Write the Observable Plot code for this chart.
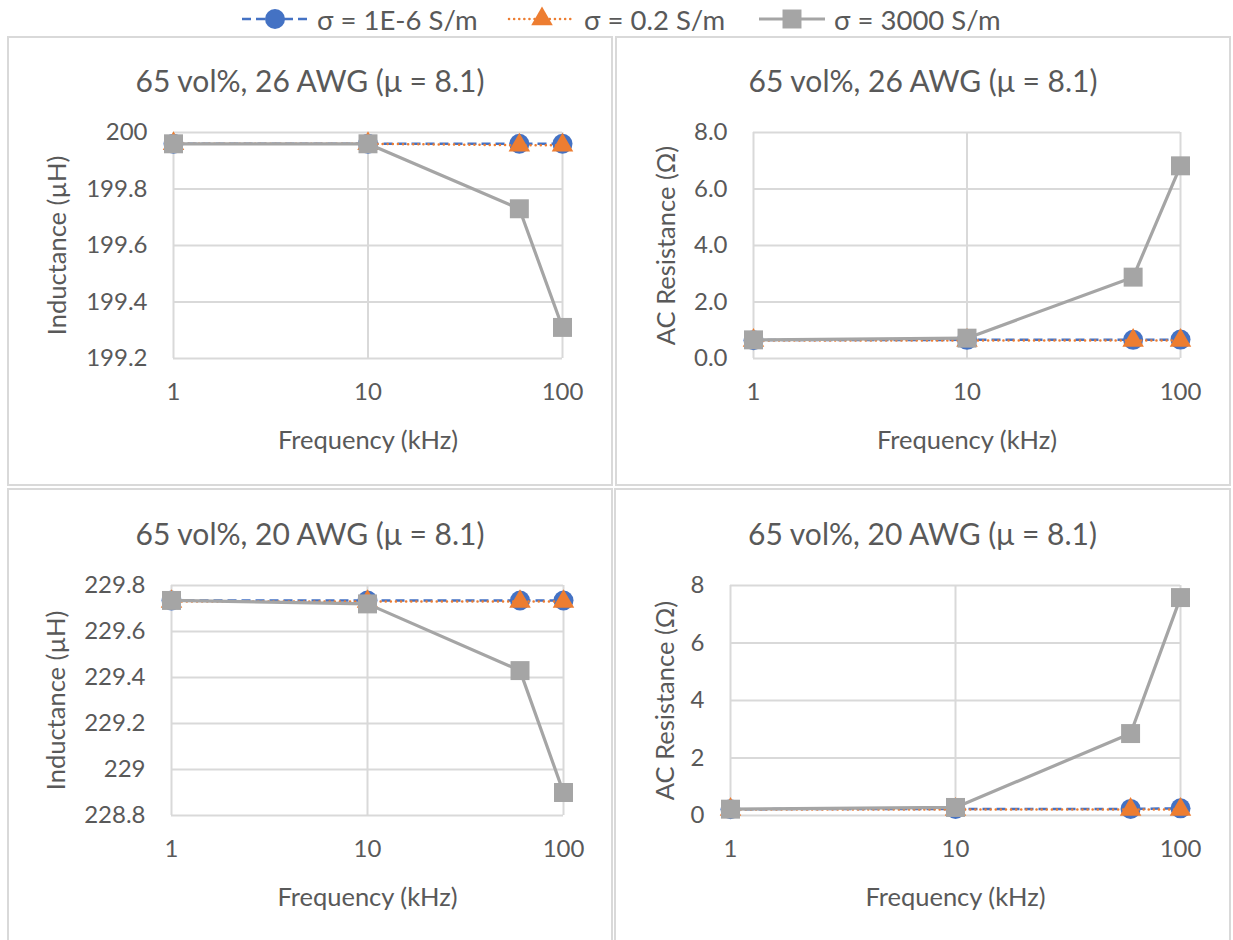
<!DOCTYPE html>
<html>
<head>
<meta charset="utf-8">
<script src="https://cdn.jsdelivr.net/npm/d3@7"></script>
<script src="https://cdn.jsdelivr.net/npm/@observablehq/plot@0.6"></script>
<style>
  body { margin: 0; width: 1233px; height: 940px; background: #fff; overflow: hidden; font-family: Lato, "Noto Sans", sans-serif; color: #595959; position: relative; }
  .panel { position: absolute; border: 2px solid #d9d9d9; box-sizing: border-box; background: #fff; }
  .title { position: absolute; left: 0; right: 0; text-align: center; font-size: 30px; line-height: 36px; color: #595959; white-space: nowrap; }
  .plot { position: absolute; left: 0; top: 0; }
  .plot g[aria-label="x-axis label"], .plot g[aria-label="y-axis label"] { font-size: 25.5px; }
  #legend { position: absolute; top: 2px; left: 0; width: 1233px; height: 34px; }
  .li { position: absolute; top: 0; display: flex; align-items: center; height: 34px; font-size: 27.5px; white-space: nowrap; }
  .li svg { display: block; }
</style>
</head>
<body>
<div id="legend"></div>
<div id="root"></div>
<script>
// ---------- data ----------
const freqs = [1, 10, 60, 100];           // kHz
const seriesNames = ["σ = 1E-6 S/m", "σ = 0.2 S/m", "σ = 3000 S/m"];
const seriesColors = ["#4472C4", "#ED7D31", "#A5A5A5"];

// Panel 1: 65 vol%, 26 AWG inductance (µH)
const ind26_s1 = [199.96, 199.96, 199.96, 199.96];
const ind26_s2 = [199.96, 199.96, 199.955, 199.955];
const ind26_s3 = [199.96, 199.96, 199.73, 199.31];
// Panel 2: 65 vol%, 26 AWG AC resistance (Ω)
const res26_s1 = [0.65, 0.66, 0.66, 0.67];
const res26_s2 = [0.64, 0.64, 0.64, 0.64];
const res26_s3 = [0.66, 0.72, 2.88, 6.82];
// Panel 3: 65 vol%, 20 AWG inductance (µH)
const ind20_s1 = [229.735, 229.735, 229.735, 229.735];
const ind20_s2 = [229.73, 229.73, 229.73, 229.73];
const ind20_s3 = [229.735, 229.72, 229.43, 228.90];
// Panel 4: 65 vol%, 20 AWG AC resistance (Ω)
const res20_s1 = [0.22, 0.23, 0.23, 0.25];
const res20_s2 = [0.21, 0.21, 0.21, 0.21];
const res20_s3 = [0.22, 0.28, 2.85, 7.58];

const xTicks = [1, 10, 100];
const ind26Ticks = [199.2, 199.4, 199.6, 199.8, 200];
const res26Ticks = [0, 2, 4, 6, 8];
const ind20Ticks = [228.8, 229, 229.2, 229.4, 229.6, 229.8];
const res20Ticks = [0, 2, 4, 6, 8];

const titleTop = "65 vol%, 26 AWG (μ = 8.1)";
const titleBottom = "65 vol%, 20 AWG (μ = 8.1)";
const xLabel = "Frequency (kHz)";
const yLabelInd = "Inductance (µH)";
const yLabelRes = "AC Resistance (Ω)";

// ---------- helpers ----------
const general = d => String(+d.toFixed(4));
const fixed1 = d => d.toFixed(1);

function rows(vals) { return freqs.map((f, i) => ({f, v: vals[i]})); }

const styles = [
  {dash: "9,5", cap: "butt", width: 2.5, symbol: "circle", r: 10},
  {dash: "0.1,5", cap: "round", width: 2.5, symbol: "triangle", r: 8},
  {dash: null, cap: "butt", width: 3.2, symbol: "square", r: 10.7}
];

function makePanel(cfg) {
  const panel = document.createElement("div");
  panel.className = "panel";
  Object.assign(panel.style, {left: cfg.left + "px", top: cfg.top + "px", width: cfg.w + "px", height: cfg.h + "px"});
  const t = document.createElement("div");
  t.className = "title";
  t.style.top = cfg.titleY + "px";
  t.textContent = cfg.title;
  panel.appendChild(t);

  const marks = [
    Plot.gridY(cfg.yTicks, {stroke: "#d9d9d9", strokeOpacity: 1, strokeWidth: 2}),
    Plot.gridX(xTicks, {stroke: "#d9d9d9", strokeOpacity: 1, strokeWidth: 2})
  ];
  cfg.series.forEach((vals, i) => {
    const s = styles[i];
    marks.push(Plot.line(rows(vals), {x: "f", y: "v", stroke: seriesColors[i], strokeWidth: s.width,
      strokeDasharray: s.dash, strokeLinecap: s.cap}));
    marks.push(Plot.dot(rows(vals), {x: "f", y: "v", symbol: s.symbol, r: s.r, fill: seriesColors[i], stroke: "none"}));
  });

  const svg = Plot.plot({
    width: cfg.w - 4,
    height: cfg.h - 4,
    marginLeft: cfg.ml, marginRight: cfg.mr, marginTop: cfg.mt, marginBottom: cfg.mb,
    style: {fontFamily: "Lato, 'Noto Sans', sans-serif", fontSize: "24px", color: "#595959", background: "transparent", overflow: "visible"},
    x: {type: "log", domain: [1, 100], ticks: xTicks, tickFormat: d => String(d), tickSize: 0, tickPadding: 24,
        label: xLabel, labelAnchor: "center", labelOffset: 90, labelArrow: "none"},
    y: {domain: cfg.yDomain, ticks: cfg.yTicks, tickFormat: cfg.yFormat, tickSize: 0, tickPadding: 26,
        label: cfg.yLabel, labelAnchor: "center", labelOffset: cfg.yLabelOffset, labelArrow: "none"},
    marks
  });
  svg.classList.add("plot");
  panel.appendChild(svg);
  document.getElementById("root").appendChild(panel);
}

// page-coordinate plot frames
function cfgFor(box, frame, extra) {
  const inner = {left: box.left + 2, top: box.top + 2};
  return Object.assign({
    left: box.left, top: box.top, w: box.w, h: box.h,
    ml: frame.x0 - inner.left, mr: (box.left + box.w - 2) - frame.x1,
    mt: frame.y0 - inner.top, mb: (box.top + box.h - 2) - frame.y1
  }, extra);
}

makePanel(cfgFor({left: 7, top: 36, w: 606, h: 450}, {x0: 173, x1: 562, y0: 132, y1: 358},
  {title: titleTop, titleY: 24, yDomain: [199.2, 200], yTicks: ind26Ticks, yFormat: general, yLabel: yLabelInd,
   yLabelOffset: 126, series: [ind26_s1, ind26_s2, ind26_s3]}));
makePanel(cfgFor({left: 615, top: 36, w: 616, h: 450}, {x0: 753, x1: 1180, y0: 132, y1: 358},
  {title: titleTop, titleY: 24, yDomain: [0, 8], yTicks: res26Ticks, yFormat: fixed1, yLabel: yLabelRes,
   yLabelOffset: 97, series: [res26_s1, res26_s2, res26_s3]}));
makePanel(cfgFor({left: 7, top: 488, w: 606, h: 460}, {x0: 171, x1: 563, y0: 585, y1: 815},
  {title: titleBottom, titleY: 25, yDomain: [228.8, 229.8], yTicks: ind20Ticks, yFormat: general, yLabel: yLabelInd,
   yLabelOffset: 125, series: [ind20_s1, ind20_s2, ind20_s3]}));
makePanel(cfgFor({left: 614, top: 488, w: 617, h: 460}, {x0: 730, x1: 1180, y0: 585, y1: 815},
  {title: titleBottom, titleY: 25, yDomain: [0, 8], yTicks: res20Ticks, yFormat: general, yLabel: yLabelRes,
   yLabelOffset: 75, series: [res20_s1, res20_s2, res20_s3]}));

// ---------- legend ----------
const legendX = [240, 507, 757];
const legend = document.getElementById("legend");
seriesNames.forEach((name, i) => {
  const s = styles[i];
  const item = document.createElement("div");
  item.className = "li";
  item.style.left = legendX[i] + "px";
  const sw = d3.create("svg").attr("width", 70).attr("height", 34).style("margin-right", "7px");
  sw.append("line").attr("x1", 2).attr("x2", 68).attr("y1", 17).attr("y2", 17)
    .attr("stroke", seriesColors[i]).attr("stroke-width", s.width)
    .attr("stroke-dasharray", s.dash).attr("stroke-linecap", s.cap);
  const sym = {circle: d3.symbolCircle, triangle: d3.symbolTriangle, square: d3.symbolSquare}[s.symbol];
  sw.append("path").attr("transform", "translate(35,17)")
    .attr("d", d3.symbol(sym, Math.PI * s.r * s.r)()).attr("fill", seriesColors[i]);
  item.appendChild(sw.node());
  const tx = document.createElement("span");
  tx.textContent = name;
  item.appendChild(tx);
  legend.appendChild(item);
});
</script>
</body>
</html>
